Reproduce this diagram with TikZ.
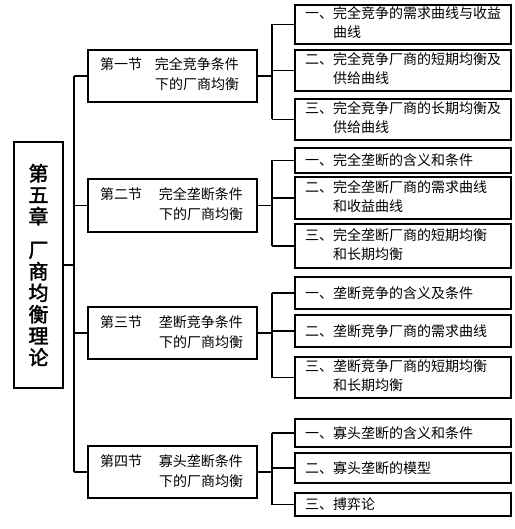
\documentclass[tikz,border=0pt]{standalone}
\usepackage{fontspec}
\setmainfont[AutoFakeBold=2]{Noto Sans CJK SC}

\begin{document}
\begin{tikzpicture}[x=1pt, y=-1pt, line width=1.3pt,
    chapter/.style={draw, line width=2pt, minimum width=49pt, minimum height=246pt,
        inner sep=0pt, align=center, font=\fontsize{20}{21.5}\selectfont\bfseries},
    section/.style={draw, line width=2pt, minimum width=169pt, minimum height=52pt,
        inner xsep=12pt, inner ysep=0pt, text width=145pt, align=left,
        font=\fontsize{14}{20}\selectfont},
    item/.style={draw, line width=2pt, inner xsep=10pt, inner ysep=0pt,
        text width=196pt, align=left, font=\fontsize{14}{19}\selectfont}]

    \useasboundingbox (0,0) rectangle (514,529);

    % Node definitions
    \node (ch) at (38.5, 265) [chapter] {第\\五\\章\\[12pt]厂\\商\\均\\衡\\理\\论};

    \node (s1) at (172.5, 76) [section]
        {\begin{tabular}{@{}l@{\hspace{13pt}}l@{}}第一节&完全竞争条件\\&下的厂商均衡\end{tabular}};
    \node (s2) at (172.5, 205.5) [section]
        {\begin{tabular}{@{}l@{\hspace{17pt}}l@{}}第二节&完全垄断条件\\&下的厂商均衡\end{tabular}};
    \node (s3) at (172.5, 333) [section]
        {\begin{tabular}{@{}l@{\hspace{17pt}}l@{}}第三节&垄断竞争条件\\&下的厂商均衡\end{tabular}};
    \node (s4) at (172.5, 472) [section]
        {\begin{tabular}{@{}l@{\hspace{17pt}}l@{}}第四节&寡头垄断条件\\&下的厂商均衡\end{tabular}};

    \node (i11) at (403, 24.5) [item, minimum height=39pt]
        {\begin{tabular}{@{}l@{}l@{}}一、&完全竞争的需求曲线与收益\\&曲线\end{tabular}};
    \node (i12) at (403, 70.5) [item, minimum height=41pt]
        {\begin{tabular}{@{}l@{}l@{}}二、&完全竞争厂商的短期均衡及\\&供给曲线\end{tabular}};
    \node (i13) at (403, 119.5) [item, minimum height=41pt]
        {\begin{tabular}{@{}l@{}l@{}}三、&完全竞争厂商的长期均衡及\\&供给曲线\end{tabular}};

    \node (i21) at (403, 160.5) [item, minimum height=25pt] {一、完全垄断的含义和条件};
    \node (i22) at (403, 198) [item, minimum height=42pt]
        {\begin{tabular}{@{}l@{}l@{}}二、&完全垄断厂商的需求曲线\\&和收益曲线\end{tabular}};
    \node (i23) at (403, 246) [item, minimum height=44pt]
        {\begin{tabular}{@{}l@{}l@{}}三、&完全垄断厂商的短期均衡\\&和长期均衡\end{tabular}};

    \node (i31) at (403, 293) [item, minimum height=32pt] {一、垄断竞争的含义及条件};
    \node (i32) at (403, 331) [item, minimum height=32pt] {二、垄断竞争厂商的需求曲线};
    \node (i33) at (403, 377.5) [item, minimum height=41pt]
        {\begin{tabular}{@{}l@{}l@{}}三、&垄断竞争厂商的短期均衡\\&和长期均衡\end{tabular}};

    \node (i41) at (403, 433) [item, minimum height=28pt] {一、寡头垄断的含义和条件};
    \node (i42) at (403, 468) [item, minimum height=30pt] {二、寡头垄断的模型};
    \node (i43) at (403, 504.5) [item, minimum height=23pt] {三、搏弈论};

    % Edge definitions
    \coordinate (trunk) at (74, 0);
    \draw (ch.east) -- (trunk |- ch.east);
    \draw (trunk |- s1.west) -- (trunk |- s4.west);
    \foreach \s in {s1, s2, s3, s4}
        \draw (trunk |- \s.west) -- (\s.west);

    \draw (s1.east) -- ++(14, 0) coordinate (b1);
    \draw (b1 |- i11.west) -- (b1 |- i13.west);
    \foreach \i in {i11, i12, i13}
        \draw (b1 |- \i.west) -- (\i.west);

    \draw (s2.east) -- ++(14, 0) coordinate (b2);
    \draw (b2 |- i21.west) -- (b2 |- i23.west);
    \foreach \i in {i21, i22, i23}
        \draw (b2 |- \i.west) -- (\i.west);

    \draw (s3.east) -- ++(14, 0) coordinate (b3);
    \draw (b3 |- i31.west) -- (b3 |- i33.west);
    \foreach \i in {i31, i32, i33}
        \draw (b3 |- \i.west) -- (\i.west);

    \draw (s4.east) -- ++(14, 0) coordinate (b4);
    \draw (b4 |- i41.west) -- (b4 |- i43.west);
    \foreach \i in {i41, i42, i43}
        \draw (b4 |- \i.west) -- (\i.west);
\end{tikzpicture}
\end{document}
